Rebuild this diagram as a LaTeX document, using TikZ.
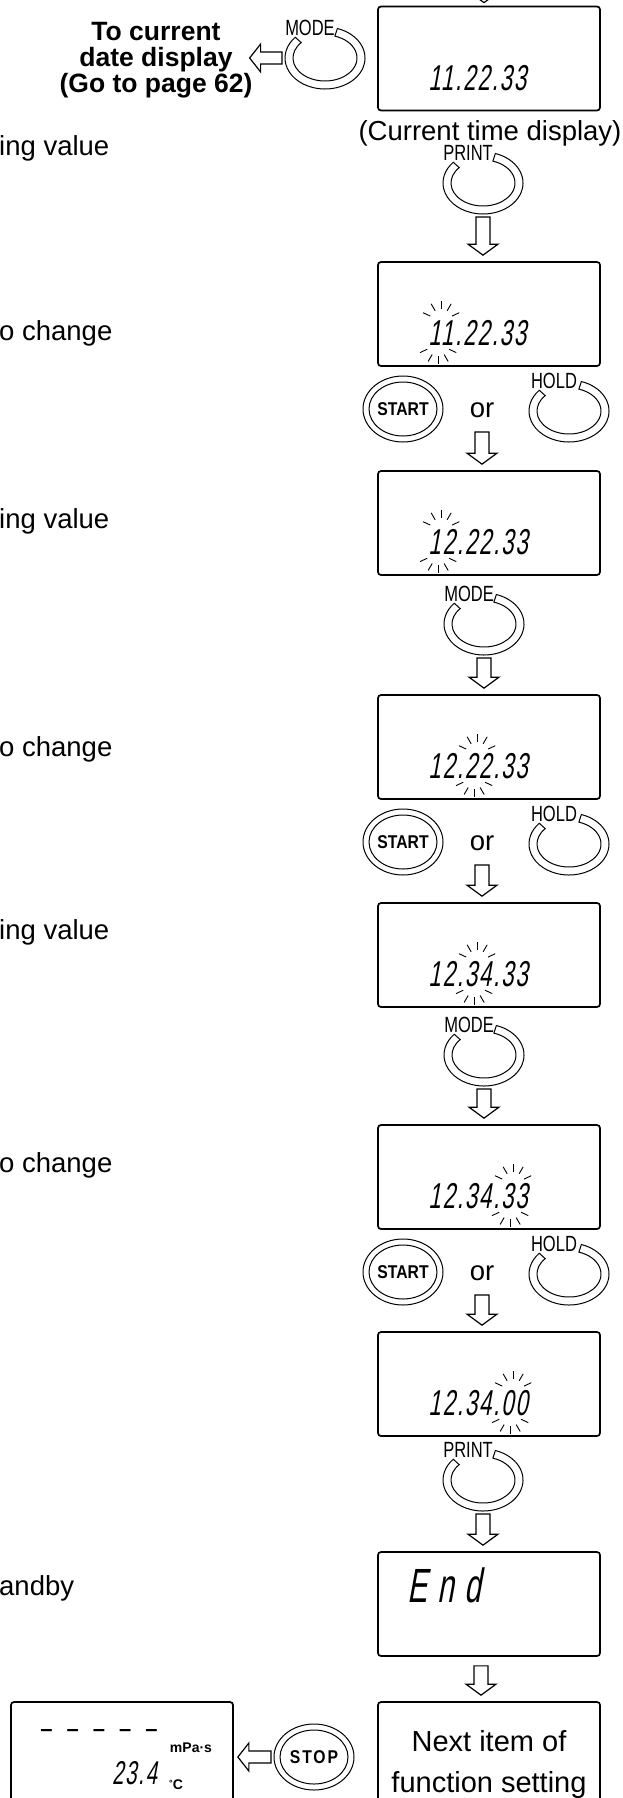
\documentclass[tikz,border=0pt]{standalone}
\usepackage{fontspec}
\setmainfont{Liberation Sans}
\newfontfamily\btnfont[FakeStretch=0.75]{Liberation Sans}
\newfontfamily\keyfont[FakeStretch=0.85]{Liberation Sans}
\newfontfamily\lcdfont[FakeSlant=0.18,FakeStretch=0.62,LetterSpace=5]{Liberation Sans}
\usetikzlibrary{positioning,calc}
\tikzset{
 pics/ringkey/.style={code={
  \draw[line width=1pt] (72:40 and 31) arc[start angle=72,end angle=-222,x radius=40,y radius=31]
   -- (-222:32 and 23) arc[start angle=-222,end angle=72,x radius=32,y radius=23] -- cycle;
  \node[font=\btnfont\fontsize{22}{22}\selectfont,inner sep=0pt] (-lbl) at (-15,30) {#1};
  \coordinate (-s) at (0,-31);
  \coordinate (-w) at (-40,0);
 }},
 pics/pushkey/.style={code={
  \draw[line width=1pt] (0,0) ellipse[x radius=40,y radius=33] (0,0) ellipse[x radius=34,y radius=27];
  \node[font=\keyfont\bfseries\fontsize{18.5}{18.5}\selectfont,inner sep=0pt] (-lbl) {#1};
  \coordinate (-w) at (-40,0);
 }}
}
\newcommand{\hdown}[3][3]{\draw[hollow] ($(#2)+(-7,-#1)$) -- ($(#2|-#3)+(-7,17)$) -- ($(#2|-#3)+(-15,17)$) -- ($(#2|-#3)+(0,6)$) -- ($(#2|-#3)+(15,17)$) -- ($(#2|-#3)+(7,17)$) -- ($(#2)+(7,-#1)$) -- cycle;}
\newcommand{\hleft}[2]{\draw[hollow] ($(#1)+(-3,6)$) -- ($(#2|-#1)+(11,6)$) -- ($(#2|-#1)+(11,14)$) -- (#2|-#1) -- ($(#2|-#1)+(11,-14)$) -- ($(#2|-#1)+(11,-6)$) -- ($(#1)+(-3,-6)$) -- cycle;}
\newcommand{\blink}[1]{\foreach \a in {25,60,90,120,155}{\draw[ray] ($(#1)+(0,12)+(\a:12)$) -- ($(#1)+(0,12)+(\a:20)$); \draw[ray] ($(#1)+(-3,-11)+(-\a:12)$) -- ($(#1)+(-3,-11)+(-\a:20)$);}}
\begin{document}
\begin{tikzpicture}[x=1pt,y=1pt,
 lcdbox/.style={draw,line width=1.7pt,rounded corners=3pt,minimum width=222pt,minimum height=104pt,inner sep=0pt},
 hollow/.style={draw,line width=1.2pt,fill=white,line join=miter},
 ray/.style={line width=0.9pt},
 txt/.style={inner sep=0pt,font=\fontsize{27.5}{29}\selectfont},
 digits/.style={inner sep=0pt,anchor=west,font=\lcdfont\fontsize{36}{36}\selectfont}]
\useasboundingbox (0,0) rectangle (623,-1798);
\clip (0,0) rectangle (623,-1798);
\node[lcdbox] (b1) at (489,-58.5) {};
\node[lcdbox] (b2) at (489,-314) {};
\node[lcdbox] (b3) at (489,-523) {};
\node[lcdbox] (b4) at (489,-747) {};
\node[lcdbox] (b5) at (489,-955) {};
\node[lcdbox] (b6) at (489,-1177) {};
\node[lcdbox] (b7) at (489,-1384) {};
\node[lcdbox] (b8) at (489,-1604) {};
\node[lcdbox] (b9) at (489,-1754) {};
\node[lcdbox] (sb) at (122,-1754) {};
\node[digits] (t1) at ($(b1.north west)+(51,-72.5)$) {11.22.33};
\node[digits] (t2) at ($(b2.north west)+(51,-72)$) {11.22.33};
\node[digits] (t3) at ($(b3.north west)+(51,-72)$) {12.22.33};
\node[digits] (t4) at ($(b4.north west)+(51,-72)$) {12.22.33};
\node[digits] (t5) at ($(b5.north west)+(51,-72)$) {12.34.33};
\node[digits] (t6) at ($(b6.north west)+(51,-72)$) {12.34.33};
\node[digits] (t7) at ($(b7.north west)+(51,-72)$) {12.34.00};
\node[digits,font=\lcdfont\addfontfeature{LetterSpace=22}\fontsize{48}{48}\selectfont] (endtxt) at ($(b8.north west)+(30,-34)$) {End};
\node[txt,align=center,font=\fontsize{29}{41}\selectfont] (nxt) at ($(b9.north)+(0,-63)$) {Next item of\\function setting};
\coordinate (k2) at ($(b2.north west)+(64,-72)$);
\coordinate (k3) at ($(b3.north west)+(64,-72)$);
\coordinate (k4) at ($(b4.north west)+(100,-72)$);
\coordinate (k5) at ($(b5.north west)+(100,-72)$);
\coordinate (k6) at ($(b6.north west)+(136,-72)$);
\coordinate (k7) at ($(b7.north west)+(136,-72)$);
\blink{k2} \blink{k3} \blink{k4} \blink{k5} \blink{k6} \blink{k7}
\node[txt] (cap) at (490,-133) {(Current time display)};
\node[txt,align=center,font=\bfseries\fontsize{26.5}{26}\selectfont] (goto) at (156,-60) {To current\\date display\\(Go to page 62)};
\node[txt,anchor=west] (set1) at (-1,-148) {ing value};
\node[txt,anchor=west] (chg1) at (-1,-333) {o change};
\node[txt,anchor=west] (set2) at (-1,-521) {ing value};
\node[txt,anchor=west] (chg2) at (-1,-749) {o change};
\node[txt,anchor=west] (set3) at (-1,-932) {ing value};
\node[txt,anchor=west] (chg3) at (-1,-1165) {o change};
\node[txt,anchor=west] (stby) at (-1,-1588) {andby};
\pic (m0) at (325,-58) {ringkey=MODE};
\pic (p1) at (483,-183) {ringkey=PRINT};
\pic (st1) at (403,-409) {pushkey=START};
\node[txt] (or1) at (482,-410) {or};
\pic (h1) at (569,-411) {ringkey=HOLD};
\pic (m1) at (484,-624) {ringkey=MODE};
\pic (st2) at (403,-842) {pushkey=START};
\node[txt] (or2) at (482,-843) {or};
\pic (h2) at (569,-844) {ringkey=HOLD};
\pic (m2) at (484,-1055) {ringkey=MODE};
\pic (st3) at (403,-1272) {pushkey=START};
\node[txt] (or3) at (482,-1273) {or};
\pic (h3) at (569,-1274) {ringkey=HOLD};
\pic (p2) at (483,-1480) {ringkey=PRINT};
\pic (stop) at (314,-1757) {pushkey={\addfontfeature{LetterSpace=10}STOP}};
\node[inner sep=0pt,font=\bfseries\fontsize{22}{22}\selectfont] (dash) at (99,-1733) {–\hspace{14pt}–\hspace{14pt}–\hspace{14pt}–\hspace{14pt}–};
\node[inner sep=0pt,font=\bfseries\fontsize{14}{14}\selectfont] (unit) at (191,-1748) {mPa·s};
\node[digits,font=\lcdfont\fontsize{33}{33}\selectfont] (temp) at (112,-1773) {23.4};
\node[inner sep=0pt,anchor=west,font=\bfseries\fontsize{14}{14}\selectfont] (degc) at (169,-1785) {\raisebox{3pt}{\fontsize{9}{9}\selectfont °}C};
\coordinate (top) at (484,30);
\coordinate (b1t) at ($(b1.north)+(0,-3)$);
\coordinate (e8) at ($(b8.south)+(-8,0)$);
\coordinate (gt) at ($(goto.east)+(-3,0)$);
\coordinate (sbt) at ($(sb.east)+(4,0)$);
\hdown{top}{b1t}
\hdown{p1-s}{b2.north}
\hdown[22]{or1}{b3.north}
\hdown{m1-s}{b4.north}
\hdown[22]{or2}{b5.north}
\hdown{m2-s}{b6.north}
\hdown[22]{or3}{b7.north}
\hdown{p2-s}{b8.north}
\hdown[9]{e8}{b9.north}
\hleft{m0-w}{gt}
\hleft{stop-w}{sbt}
\end{tikzpicture}
\end{document}
